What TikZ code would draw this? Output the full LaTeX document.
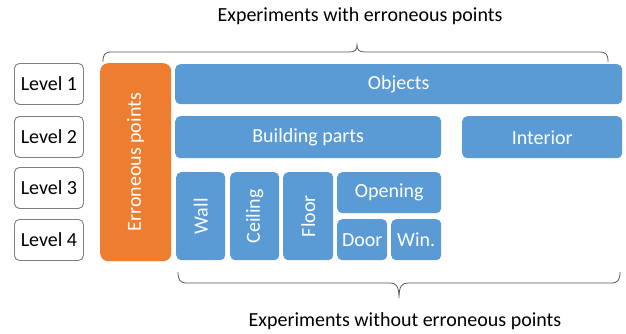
\documentclass[tikz,border=0pt]{standalone}
\usepackage{fontspec}
\setmainfont{Carlito}
\definecolor{partblue}{HTML}{5B9BD5}
\definecolor{errorange}{HTML}{ED7D31}
\definecolor{edgegray}{HTML}{7F7F7F}
\definecolor{bracegray}{HTML}{595959}
\begin{document}
\begin{tikzpicture}[x=1pt,y=-1pt,
  every node/.style={font=\fontsize{20}{24}\selectfont},
  lvl/.style={draw=edgegray, fill=white, rounded corners=5pt, line width=0.9pt,
    minimum width=69pt, minimum height=41pt, anchor=north west, inner sep=0pt},
  part/.style={fill=partblue, rounded corners=5pt, text=white,
    anchor=north west, inner sep=0pt},
  errbox/.style={fill=errorange, rounded corners=8pt, text=white,
    anchor=north west, inner sep=0pt},
  bracepath/.style={draw=bracegray, line width=0.8pt},
  caption/.style={anchor=base}]
\useasboundingbox (0,0) rectangle (626,333);

% hierarchy levels
\node[lvl] (l1) at (14,63) {Level 1};
\node[lvl] (l2) at (14,116) {Level 2};
\node[lvl] (l3) at (14,167) {Level 3};
\node[lvl] (l4) at (14,219) {Level 4};

% erroneous points column
\node[errbox, minimum width=71pt, minimum height=198pt] (err) at (100,63)
  {\rotatebox{90}{Erroneous points}};

% object classes
\node[part, minimum width=447pt, minimum height=40pt] (obj) at (175,64) {Objects};
\node[part, minimum width=266pt, minimum height=42pt] (bp) at (175,116) {Building parts};
\node[part, minimum width=160pt, minimum height=42pt] (int) at (462,116) {Interior};
\node[part, minimum width=49pt, minimum height=88pt] (wall) at (176,172) {\rotatebox{90}{Wall}};
\node[part, minimum width=49pt, minimum height=88pt] (ceil) at (230,172) {\rotatebox{90}{Ceiling}};
\node[part, minimum width=50pt, minimum height=88pt] (floor) at (283,172) {\rotatebox{90}{Floor}};
\node[part, minimum width=104pt, minimum height=41pt] (open) at (337,172) {Opening};
\node[part, minimum width=50pt, minimum height=41pt] (door) at (337,219) {Door};
\node[part, minimum width=50pt, minimum height=41pt] (win) at (391,219) {Win.};

% upper brace
\coordinate (tl) at (103,62);
\coordinate (tr) at (608,62);
\coordinate (tt) at (357,45);
\draw[bracepath] (tl) .. controls (103,54) and (105,52) .. (112,52) -- (349,52)
  .. controls (355,52) and (357,50) .. (tt)
  .. controls (357,50) and (359,52) .. (365,52) -- (599,52)
  .. controls (606,52) and (608,54) .. (tr);
\node[caption] (top) at (360,21) {Experiments with erroneous points};

% lower brace
\coordinate (bl) at (178,272);
\coordinate (br) at (620,272);
\coordinate (bt) at (399,298);
\draw[bracepath] (bl) .. controls (178,280) and (180,283) .. (187,283) -- (390,283)
  .. controls (396,283) and (399,286) .. (bt)
  .. controls (399,286) and (402,283) .. (408,283) -- (611,283)
  .. controls (618,283) and (620,280) .. (br);
\node[caption] (bottom) at (405,326) {Experiments without erroneous points};
\end{tikzpicture}
\end{document}
